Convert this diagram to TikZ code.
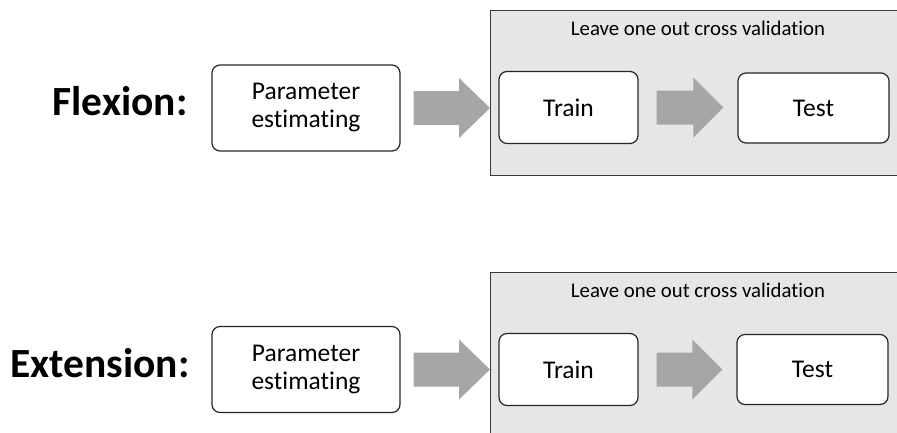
\documentclass[tikz,border=0pt]{standalone}
\usepackage{fontspec}
\setmainfont{Carlito}[Ligatures=NoCommon]
\usetikzlibrary{calc}
\definecolor{panelfill}{HTML}{E6E6E6}
\definecolor{panelline}{HTML}{3A3A3A}
\definecolor{arrowfill}{HTML}{A6A6A6}
\tikzset{
  procbox/.style={draw=black!85, line width=1.2pt, fill=white, rounded corners=8pt,
    align=center, inner sep=0pt, font=\fontsize{25.5}{28}\selectfont},
  panel/.style={draw=panelline, line width=1pt, fill=panelfill, inner sep=0pt, anchor=north west},
  paneltitle/.style={font=\fontsize{20.8}{24}\selectfont, anchor=base},
  rowlabel/.style={font=\fontsize{41.5}{48}\selectfont\bfseries, anchor=base east},
  blockarrow/.style={fill=arrowfill, draw=none}
}
\begin{document}
\begin{tikzpicture}[x=1pt,y=-1pt]
  \useasboundingbox (0,0) rectangle (897,432);

  % ---- flexion row ----
  \node[panel, minimum width=420pt, minimum height=165pt] (cv1) at (490,10) {};
  \node[paneltitle] (cvt1) at (698,35) {Leave one out cross validation};
  \node[rowlabel] (lab1) at (191,115) {Flexion:};
  \node[procbox, minimum width=188pt, minimum height=86pt] (pe1) at (306,108) {Parameter\\estimating};
  \node[procbox, minimum width=139pt, minimum height=72pt] (tr1) at (568.5,107.5) {Train};
  \node[procbox, minimum width=151pt, minimum height=70pt] (te1) at (813.5,108) {Test};
  \coordinate (tip1) at (cv1.west |- pe1.east);
  \fill[blockarrow] let \p1=(pe1.east), \p2=(tip1) in
    (\x1+13pt,\y1+17pt) -- (\x2-31pt,\y1+17pt) -- (\x2-31pt,\y1+30pt) -- (\x2,\y1)
    -- (\x2-31pt,\y1-30pt) -- (\x2-31pt,\y1-17pt) -- (\x1+13pt,\y1-17pt) -- cycle;
  \fill[blockarrow] let \p1=(tr1.east), \p2=(te1.west) in
    (\x1+18pt,\y1+17pt) -- (\x2-44pt,\y1+17pt) -- (\x2-44pt,\y1+30pt) -- (\x2-14pt,\y1)
    -- (\x2-44pt,\y1-30pt) -- (\x2-44pt,\y1-17pt) -- (\x1+18pt,\y1-17pt) -- cycle;

  % ---- extension row ----
  \node[panel, minimum width=420pt, minimum height=170pt] (cv2) at (490,272) {};
  \node[paneltitle] (cvt2) at (698,297) {Leave one out cross validation};
  \node[rowlabel] (lab2) at (193,377) {Extension:};
  \node[procbox, minimum width=188pt, minimum height=86pt] (pe2) at (306,369.5) {Parameter\\estimating};
  \node[procbox, minimum width=139pt, minimum height=72pt] (tr2) at (568.5,369.5) {Train};
  \node[procbox, minimum width=151pt, minimum height=70pt] (te2) at (812.5,369.5) {Test};
  \coordinate (tip2) at (cv2.west |- pe2.east);
  \fill[blockarrow] let \p1=(pe2.east), \p2=(tip2) in
    (\x1+13pt,\y1+17pt) -- (\x2-31pt,\y1+17pt) -- (\x2-31pt,\y1+30pt) -- (\x2,\y1)
    -- (\x2-31pt,\y1-30pt) -- (\x2-31pt,\y1-17pt) -- (\x1+13pt,\y1-17pt) -- cycle;
  \fill[blockarrow] let \p1=(tr2.east), \p2=(te2.west) in
    (\x1+18pt,\y1+17pt) -- (\x2-44pt,\y1+17pt) -- (\x2-44pt,\y1+30pt) -- (\x2-14pt,\y1)
    -- (\x2-44pt,\y1-30pt) -- (\x2-44pt,\y1-17pt) -- (\x1+18pt,\y1-17pt) -- cycle;
\end{tikzpicture}
\end{document}
